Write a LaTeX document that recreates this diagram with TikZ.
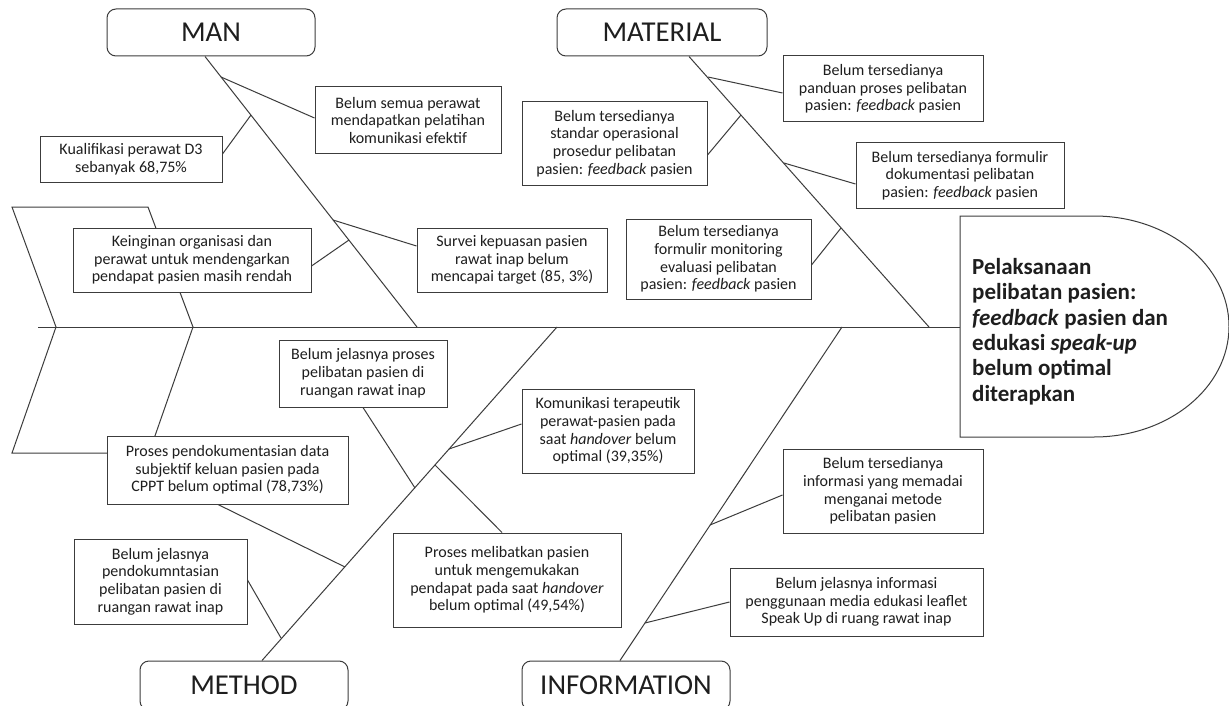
\documentclass[tikz,border=0pt]{standalone}
\usepackage{fontspec}
\setmainfont{Carlito}
\usetikzlibrary{calc}
\definecolor{linec}{HTML}{3C3C3C}
\definecolor{txtc}{HTML}{1E1E1E}
\tikzset{
  ln/.style={draw=linec, line width=1pt},
  cause/.style={draw=linec, line width=1pt, fill=white, align=center, inner sep=0pt, text=txtc,
    font=\fontsize{16}{17.7}\selectfont},
  hdr/.style={draw=linec, line width=1pt, rounded corners=9pt, fill=white, inner sep=0pt, text=txtc,
    font=\fontsize{28.8}{32}\selectfont},
}
\begin{document}
\begin{tikzpicture}[x=1pt,y=-1pt]
\useasboundingbox (0,0) rectangle (1229,706);
\clip (0,0) rectangle (1229,706);
\fill[white] (0,0) rectangle (1229,706);

% tail
\draw[ln] (12,207) -- (148,207) -- (193,327) -- (149,453) -- (12,453) -- (56,327) -- cycle;

% spine and head
\coordinate (sp0) at (38,327);
\coordinate (sp1) at (960,327);
\draw[ln] (sp0) -- (sp1);
\draw[ln, fill=white] (960,216) -- (1094,216) arc[start angle=-90, end angle=90, x radius=135, y radius=110.5] -- (960,437) -- cycle;
\node[anchor=north west, align=left, inner sep=0pt, text=txtc,
  font=\bfseries\fontsize{23}{25.4}\selectfont] (effect) at (972,258)
  {Pelaksanaan\\pelibatan pasien:\\\textit{feedback} pasien dan\\edukasi \textit{speak-up}\\belum optimal\\diterapkan};

% headers
\node[hdr, minimum width=208pt, minimum height=47pt] (man) at (211,32.5) {MAN};
\node[hdr, minimum width=210pt, minimum height=47pt] (material) at (662,32.5) {MATERIAL};
\node[hdr, minimum width=208pt, minimum height=49pt] (method) at (244,685.5) {METHOD};
\node[hdr, minimum width=208pt, minimum height=49pt] (information) at (626,685.5) {INFORMATION};

% MAN causes
\node[cause, minimum width=186pt, minimum height=67pt] (m1) at (408,120.5)
  {Belum semua perawat\\mendapatkan pelatihan\\komunikasi efektif};
\node[cause, minimum width=182pt, minimum height=45pt] (m2) at (131,159.5)
  {Kualifikasi perawat D3\\sebanyak 68,75\%};
\node[cause, minimum width=238pt, minimum height=64pt] (m3) at (192,260)
  {Keinginan organisasi dan\\perawat untuk mendengarkan\\pendapat pasien masih rendah};
\node[cause, minimum width=190pt, minimum height=64pt] (m4) at (512,260)
  {Survei kepuasan pasien\\rawat inap belum\\mencapai target (85, 3\%)};

% MATERIAL causes
\node[cause, minimum width=200pt, minimum height=66pt] (t1) at (883,89)
  {Belum tersedianya\\panduan proses pelibatan\\pasien: \textit{feedback} pasien};
\node[cause, minimum width=185pt, minimum height=83pt] (t2) at (614.5,143.5)
  {Belum tersedianya\\standar operasional\\prosedur pelibatan\\pasien: \textit{feedback} pasien};
\node[cause, minimum width=208pt, minimum height=65pt] (t3) at (960,175.5)
  {Belum tersedianya formulir\\dokumentasi pelibatan\\pasien: \textit{feedback} pasien};
\node[cause, minimum width=185pt, minimum height=80pt] (t4) at (718.5,259)
  {Belum tersedianya\\formulir monitoring\\evaluasi pelibatan\\pasien: \textit{feedback} pasien};

% METHOD causes
\node[cause, minimum width=168pt, minimum height=67pt] (d1) at (363,373.5)
  {Belum jelasnya proses\\pelibatan pasien di\\ruangan rawat inap};
\node[cause, minimum width=172pt, minimum height=84pt] (d2) at (608,431)
  {Komunikasi terapeutik\\perawat-pasien pada\\saat \textit{handover} belum\\optimal (39,35\%)};
\node[cause, minimum width=241pt, minimum height=68pt] (d3) at (227.5,470)
  {Proses pendokumentasian data\\subjektif keluan pasien pada\\CPPT belum optimal (78,73\%)};
\node[cause, minimum width=173pt, minimum height=85pt] (d4) at (160.5,581.5)
  {Belum jelasnya\\pendokumntasian\\pelibatan pasien di\\ruangan rawat inap};
\node[cause, minimum width=228pt, minimum height=94pt] (d5) at (507,580)
  {Proses melibatkan pasien\\untuk mengemukakan\\pendapat pada saat \textit{handover}\\belum optimal (49,54\%)};

% INFORMATION causes
\node[cause, minimum width=200pt, minimum height=84pt] (i1) at (883,491)
  {Belum tersedianya\\informasi yang memadai\\menganai metode\\pelibatan pasien};
\node[cause, minimum width=253pt, minimum height=68pt] (i2) at (856.5,602)
  {Belum jelasnya informasi\\penggunaan media edukasi leaflet\\Speak Up di ruang rawat inap};

% bones
\coordinate (manE) at (417,327);
\coordinate (matE) at (929,327);
\coordinate (metE) at (557,327);
\coordinate (infE) at (842,327);
\draw[ln] ($(man.south)+(-6,0)$) -- (manE);
\draw[ln] ($(material.south)+(27,0)$) -- (matE);
\draw[ln] ($(method.north)+(18,0)$) -- (metE);
\draw[ln] ($(information.north)+(-6,0)$) -- (infE);

% bone points
\coordinate (pm1) at (221,77);
\coordinate (pm2) at (251,115);
\coordinate (pm3) at (349,240);
\coordinate (pm4) at (333,220);
\coordinate (pt1) at (708,77);
\coordinate (pt2) at (741,115);
\coordinate (pt3) at (784,163);
\coordinate (pt4) at (841,228);
\coordinate (pd1) at (415,488);
\coordinate (pd2) at (449,449);
\coordinate (pd3) at (345,567);
\coordinate (pd4) at (281,638);
\coordinate (pd5) at (435,465);
\coordinate (pi1) at (710,525);
\coordinate (pi2) at (645,623);

% ribs
\draw[ln] ($(m1.west)+(0,-2.5)$) -- (pm1);
\draw[ln] ($(m2.east)+(0,-5.5)$) -- (pm2);
\draw[ln] ($(m3.east)+(0,6)$) -- (pm3);
\draw[ln] ($(m4.west)+(0,-14)$) -- (pm4);
\draw[ln] ($(t1.west)+(0,4)$) -- (pt1);
\draw[ln] ($(t2.east)+(0,11.5)$) -- (pt2);
\draw[ln] ($(t3.west)+(0,8.5)$) -- (pt3);
\draw[ln] ($(t4.east)+(0,6)$) -- (pt4);
\draw[ln] (d1.south) -- (pd1);
\draw[ln] ($(d2.west)+(0,-7)$) -- (pd2);
\draw[ln] ($(d3.south)+(-9.5,0)$) -- (pd3);
\draw[ln] ($(d4.east)+(0,-1.5)$) -- (pd4);
\draw[ln] ($(d5.north)+(-5,0)$) -- (pd5);
\draw[ln] ($(i1.west)+(0,4)$) -- (pi1);
\draw[ln] (i2.west) -- (pi2);
\end{tikzpicture}
\end{document}
